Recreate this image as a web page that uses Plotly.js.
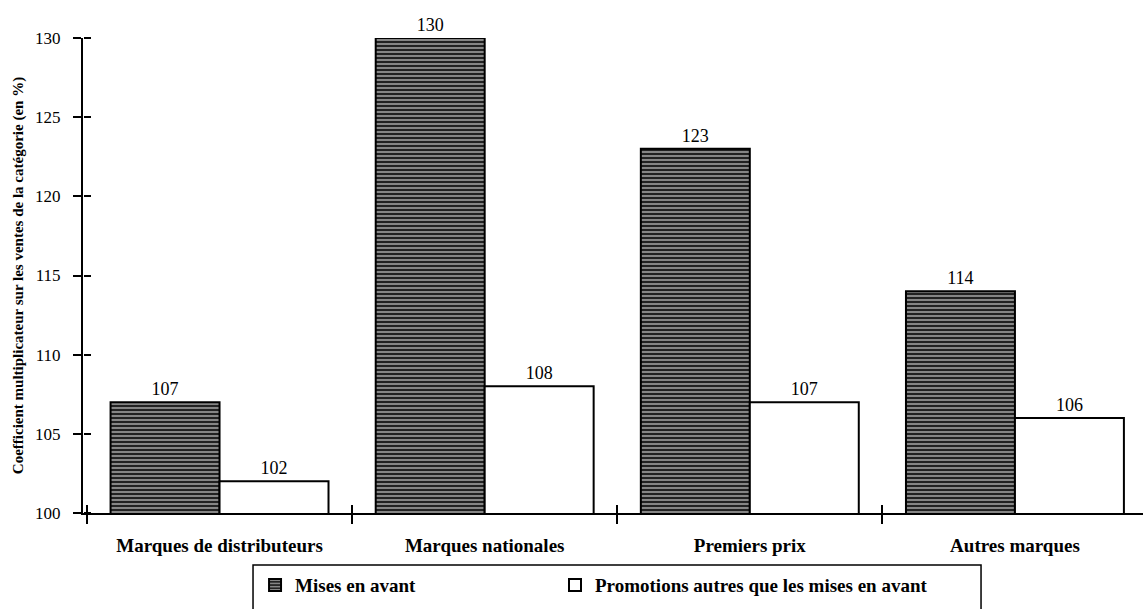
<!DOCTYPE html>
<html>
<head>
<meta charset="utf-8">
<script src="https://cdn.plot.ly/plotly-3.0.1.min.js"></script>
<style>html,body{margin:0;padding:0;background:#fff;}#chart{width:1143px;height:609px;}</style>
</head>
<body>
<div id="chart"></div>
<script>
const categories = ["Marques de distributeurs", "Marques nationales", "Premiers prix", "Autres marques"];
const misesEnAvant = [107, 130, 123, 114];
const promotionsAutres = [102, 108, 107, 106];
const seriesNames = ["Mises en avant", "Promotions autres que les mises en avant"];
const yTicks = [100, 105, 110, 115, 120, 125, 130];

const serif = '"Liberation Serif", "Times New Roman", serif';
const legendFont = {family: serif, size: 19, color: "#000", weight: "bold"};

const traces = [
  {
    type: "bar", name: seriesNames[0], x: categories, y: misesEnAvant, legend: "legend",
    text: misesEnAvant.map(String), textposition: "outside", cliponaxis: false,
    textfont: {family: serif, size: 18, color: "#000"},
    marker: {color: "#2b2b2b", line: {color: "#000", width: 2},
      pattern: {shape: "-", fgcolor: "#c8c8c8", bgcolor: "#222", size: 4, solidity: 0.3, fillmode: "replace"}},
    hoverinfo: "skip"
  },
  {
    type: "bar", name: seriesNames[1], x: categories, y: promotionsAutres, legend: "legend2",
    text: promotionsAutres.map(String), textposition: "outside", cliponaxis: false,
    textfont: {family: serif, size: 18, color: "#000"},
    marker: {color: "#fff", line: {color: "#000", width: 2}},
    hoverinfo: "skip"
  },
  {
    type: "scatter", mode: "markers", x: categories, y: promotionsAutres,
    xaxis: "x2", yaxis: "y2", marker: {opacity: 0}, showlegend: false, hoverinfo: "skip"
  }
];

const layout = {
  width: 1143, height: 609,
  margin: {l: 83, r: 0, t: 38, b: 96},
  paper_bgcolor: "#fff", plot_bgcolor: "rgba(0,0,0,0)",
  font: {family: serif, color: "#000"},
  barmode: "group", bargap: 0.178, bargroupgap: 0,
  showlegend: true,
  legend: {
    orientation: "h", x: 0.1623, xanchor: "left", y: -0.112, yanchor: "top",
    borderwidth: 0, bgcolor: "rgba(0,0,0,0)", font: legendFont, itemwidth: 30
  },
  legend2: {
    orientation: "h", x: 0.4453, xanchor: "left", y: -0.112, yanchor: "top",
    borderwidth: 0, bgcolor: "rgba(0,0,0,0)", font: legendFont, itemwidth: 30
  },
  shapes: [{
    type: "rect", xref: "paper", yref: "paper",
    x0: 0.1604, x1: 0.8472, y0: -0.1095, y1: -0.26,
    line: {color: "#000", width: 1.5}, fillcolor: "rgba(0,0,0,0)", layer: "below"
  }],
  xaxis: {
    type: "category", range: [-0.515, 3.483],
    showline: true, linecolor: "#000", linewidth: 2,
    ticks: "outside", ticklen: 9, tickwidth: 2, tickcolor: "#000",
    tickson: "boundaries", showgrid: false, zeroline: false,
    tickfont: {family: serif, size: 19, color: "#000", weight: "bold"},
    ticklabelstandoff: 14, fixedrange: true
  },
  xaxis2: {
    type: "category", overlaying: "x", matches: "x", anchor: "y2", side: "bottom",
    showline: false, ticks: "inside", ticklen: 8, tickwidth: 2, tickcolor: "#000",
    tickson: "boundaries", showticklabels: false, showgrid: false, zeroline: false
  },
  yaxis: {
    range: [100, 130], tickmode: "array", tickvals: yTicks, ticktext: yTicks.map(String),
    showline: true, linecolor: "#000", linewidth: 2,
    ticks: "outside", ticklen: 8, tickwidth: 2, tickcolor: "#000",
    showgrid: false, zeroline: false,
    tickfont: {family: serif, size: 17, color: "#000"},
    ticklabelstandoff: 9,
    title: {text: "Coefficient multiplicateur sur les ventes de la catégorie (en %)",
      font: {family: serif, size: 15, color: "#000", weight: "bold"}, standoff: 8},
    fixedrange: true
  },
  yaxis2: {
    overlaying: "y", anchor: "free", position: 0, side: "right",
    range: [100, 130], tickmode: "array", tickvals: yTicks,
    showline: false, ticks: "outside", ticklen: 7, tickwidth: 2, tickcolor: "#000",
    showticklabels: false, showgrid: false, zeroline: false
  }
};

Plotly.newPlot("chart", traces, layout, {displayModeBar: false, staticPlot: true});
</script>
</body>
</html>
